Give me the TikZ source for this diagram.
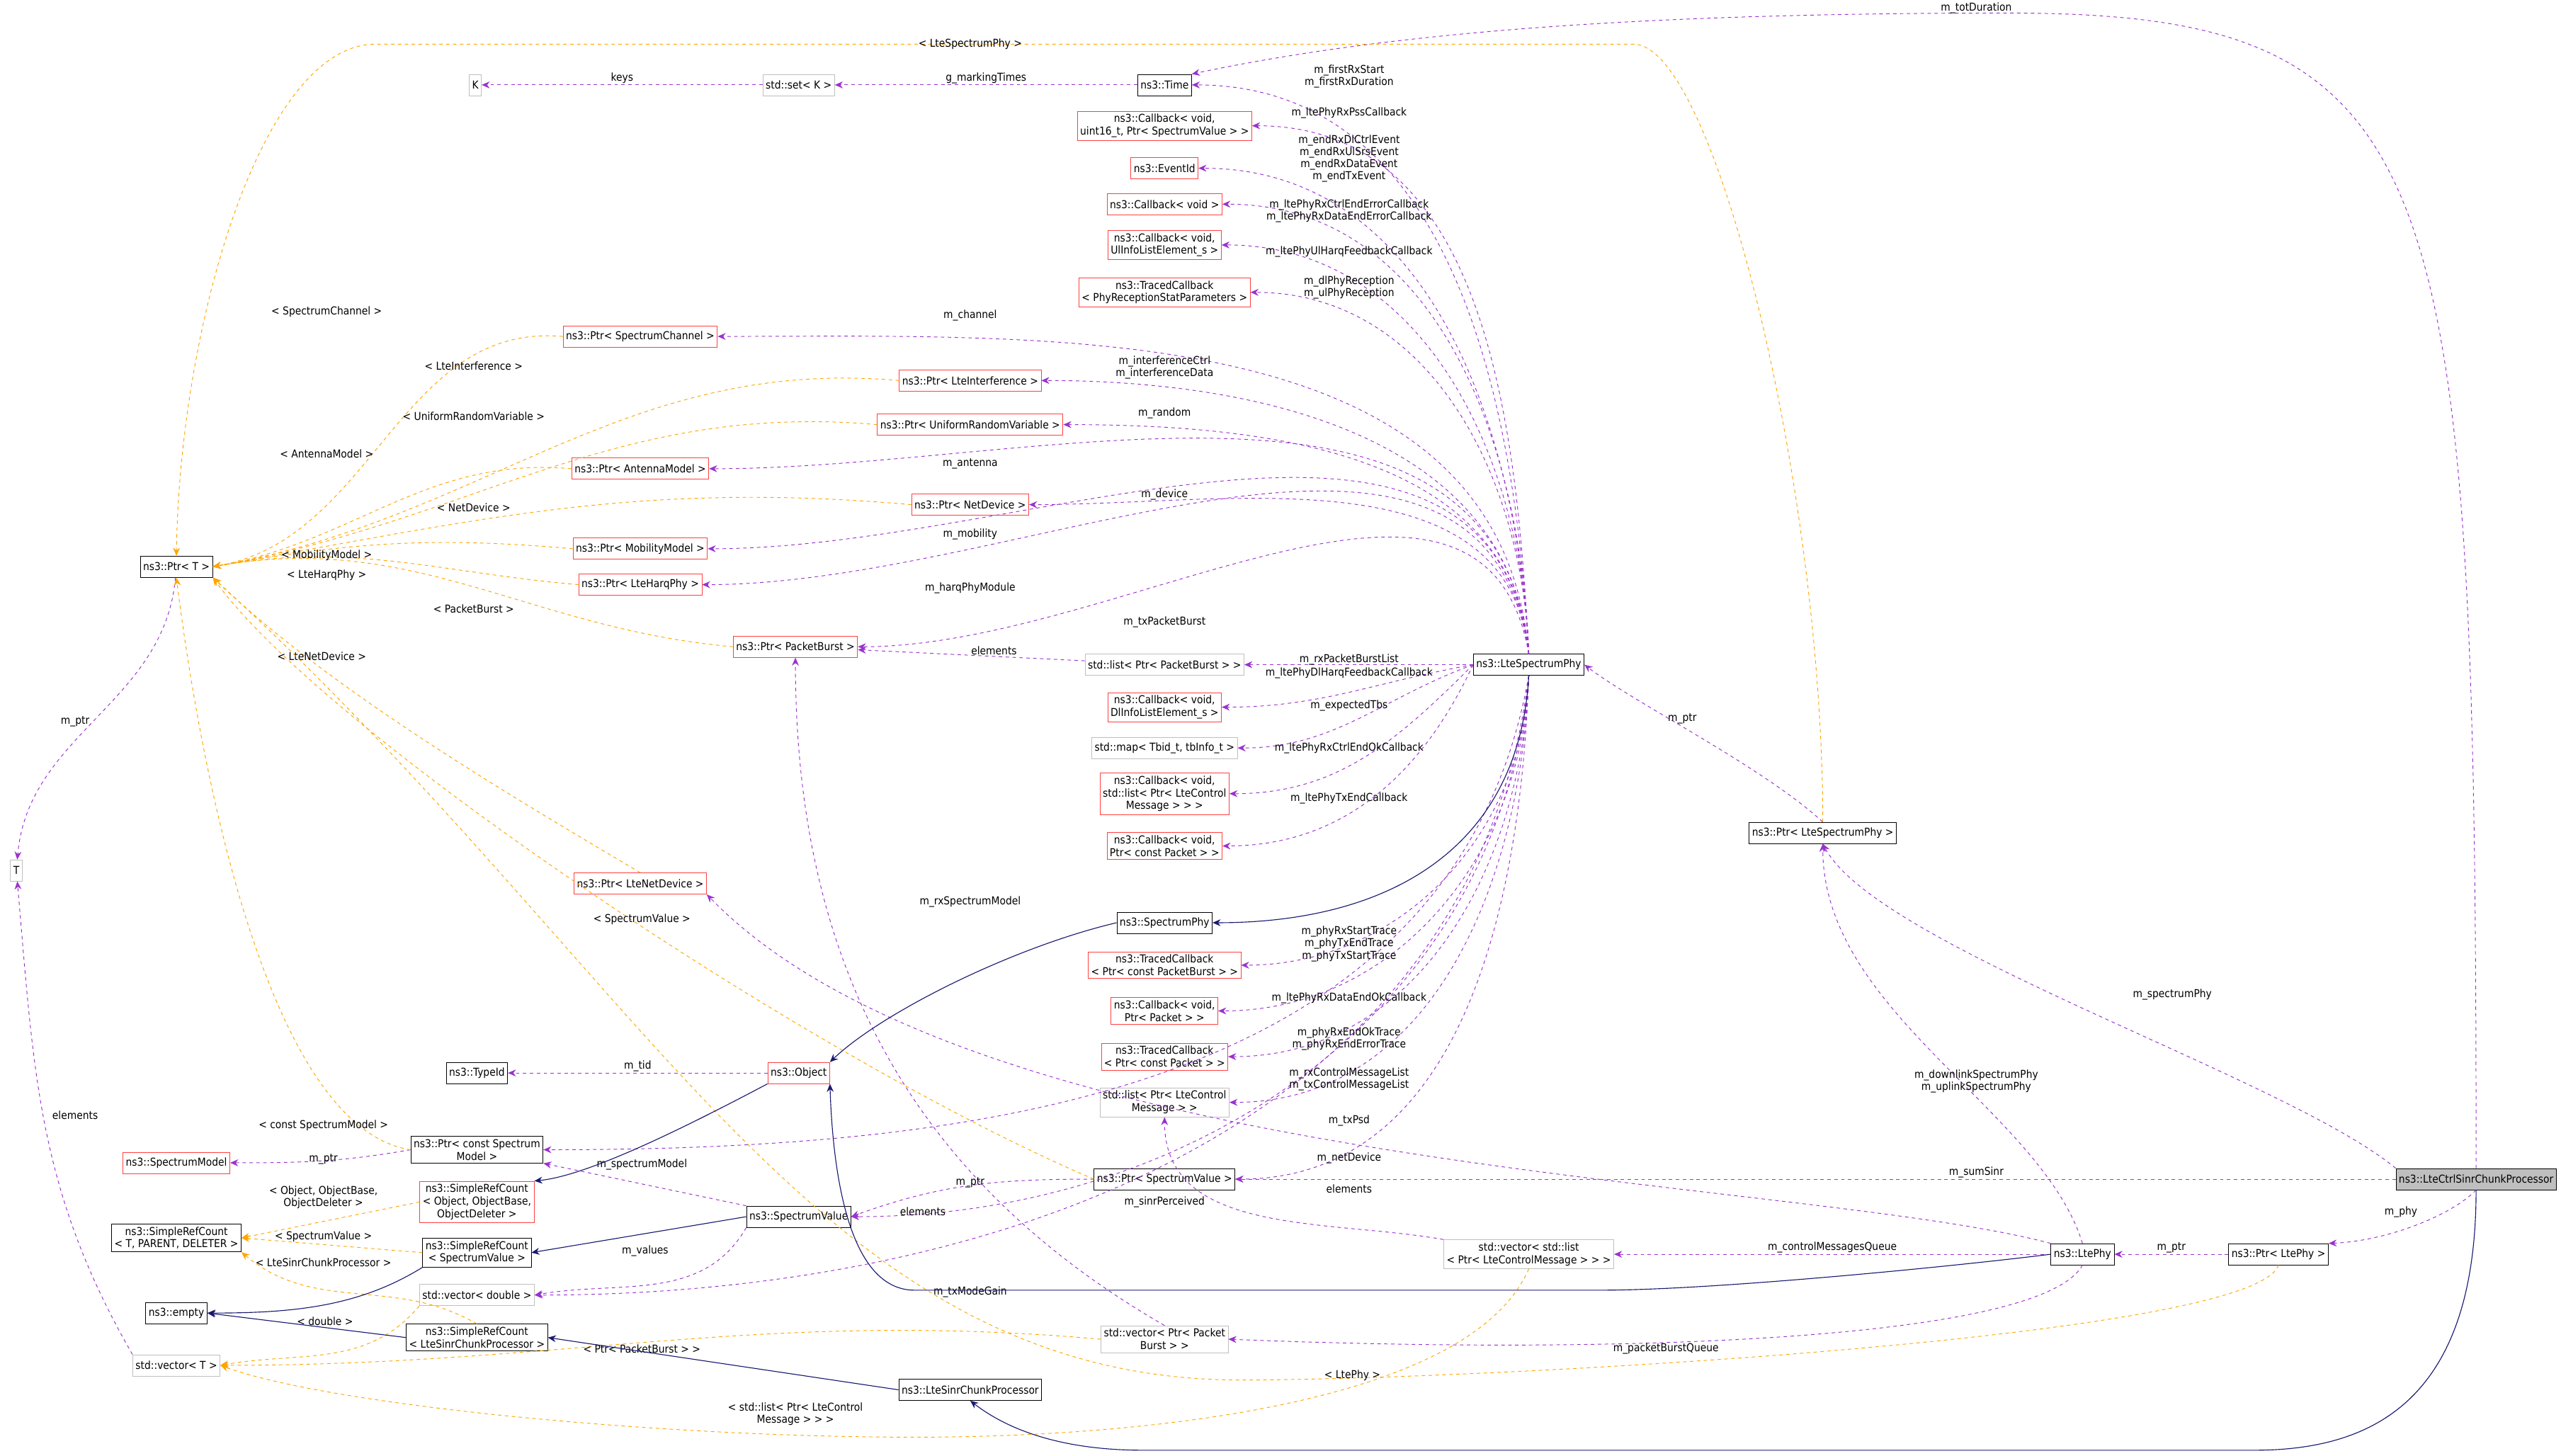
\documentclass[tikz,border=0pt]{standalone}
\usepackage{fontspec}
\setmainfont{DejaVu Sans Condensed}
\usetikzlibrary{arrows.meta}
\definecolor{nutz}{RGB}{154,50,205}
\definecolor{vorlage}{RGB}{255,165,0}
\definecolor{erbe}{RGB}{25,25,112}
\definecolor{rotrand}{RGB}{255,64,64}
\definecolor{graurand}{RGB}{191,191,191}
\tikzset{
  cls/.style={draw=black, line width=0.5pt, font=\fontsize{9.5}{11}\selectfont, align=center, inner sep=2.5pt, minimum height=0.65cm},
  redcls/.style={cls, draw=rotrand},
  graycls/.style={cls, draw=graurand},
  hauptcls/.style={cls, fill=graurand},
  usedge/.style={nutz, dashed, line width=0.6pt, -{Stealth[length=7pt,width=6pt]}},
  tmpedge/.style={vorlage, dashed, line width=0.6pt, -{Stealth[length=7pt,width=6pt]}},
  inhedge/.style={erbe, line width=0.7pt, -{Stealth[length=7pt,width=6pt]}},
  lbl/.style={text=black, font=\fontsize{9.5}{10.5}\selectfont, align=center, inner sep=1pt}
}
\begin{document}
\begin{tikzpicture}[x=0.05cm, y=-0.05cm]
    \useasboundingbox (0,0) rectangle (1568,891.5);
    % Knoten oben
    \node[graycls] (k) at (291,52) {K};
    \node[graycls] (setk) at (489,52) {std::set< K >};
    \node[cls] (time) at (713,52) {ns3::Time};
    \node[redcls] (cbpss) at (713,77) {ns3::Callback< void,\\ uint16\_t, Ptr< SpectrumValue > >};
    \node[redcls] (evid) at (713,103) {ns3::EventId};
    \node[redcls] (cbvoid) at (713,125) {ns3::Callback< void >};
    \node[redcls] (cbul) at (713,150) {ns3::Callback< void,\\ UlInfoListElement\_s >};
    \node[redcls] (tcrecv) at (713,179) {ns3::TracedCallback\\< PhyReceptionStatParameters >};
    % Zeiger
    \node[redcls] (pchan) at (392,206) {ns3::Ptr< SpectrumChannel >};
    \node[redcls] (pinter) at (594,233) {ns3::Ptr< LteInterference >};
    \node[redcls] (purv) at (594,260) {ns3::Ptr< UniformRandomVariable >};
    \node[redcls] (pant) at (392,287) {ns3::Ptr< AntennaModel >};
    \node[redcls] (pnd) at (594,309) {ns3::Ptr< NetDevice >};
    \node[redcls] (pmob) at (392,336) {ns3::Ptr< MobilityModel >};
    \node[redcls] (pharq) at (392,358) {ns3::Ptr< LteHarqPhy >};
    \node[cls] (pT) at (108,347) {ns3::Ptr< T >};
    \node[redcls] (ppb) at (487,396) {ns3::Ptr< PacketBurst >};
    \node[graycls] (lpb) at (713,407) {std::list< Ptr< PacketBurst > >};
    \node[cls] (lsp) at (936,407) {ns3::LteSpectrumPhy};
    \node[redcls] (cbdl) at (713,433) {ns3::Callback< void,\\ DlInfoListElement\_s >};
    \node[graycls] (mtb) at (713,458) {std::map< Tbid\_t, tbInfo\_t >};
    \node[redcls] (cbctrl) at (713,486) {ns3::Callback< void,\\ std::list< Ptr< LteControl\\ Message > > >};
    \node[redcls] (cbcpk) at (713,518) {ns3::Callback< void,\\ Ptr< const Packet > >};
    \node[graycls] (tT) at (10,533) {T};
    \node[redcls] (plnd) at (392,541) {ns3::Ptr< LteNetDevice >};
    \node[cls] (sphy) at (713,565) {ns3::SpectrumPhy};
    \node[redcls] (tcpb) at (713,591) {ns3::TracedCallback\\< Ptr< const PacketBurst > >};
    \node[redcls] (cbpk) at (713,619) {ns3::Callback< void,\\ Ptr< Packet > >};
    \node[redcls] (tcpk) at (713,647) {ns3::TracedCallback\\< Ptr< const Packet > >};
    \node[graycls] (lcm) at (713,675) {std::list< Ptr< LteControl\\ Message > >};
    % Basisklassen
    \node[cls] (tid) at (292,657) {ns3::TypeId};
    \node[redcls] (obj) at (489,657) {ns3::Object};
    \node[redcls] (smod) at (108,712) {ns3::SpectrumModel};
    \node[cls] (psm) at (292,704) {ns3::Ptr< const Spectrum\\ Model >};
    \node[redcls] (srcobj) at (292,736) {ns3::SimpleRefCount\\< Object, ObjectBase,\\ ObjectDeleter >};
    \node[cls] (srcT) at (108,758) {ns3::SimpleRefCount\\< T, PARENT, DELETER >};
    \node[cls] (sval) at (489,745) {ns3::SpectrumValue};
    \node[cls] (psv) at (713,722) {ns3::Ptr< SpectrumValue >};
    \node[cls] (srcsv) at (292,767) {ns3::SimpleRefCount\\< SpectrumValue >};
    \node[graycls] (vdbl) at (292,793) {std::vector< double >};
    \node[cls] (empty) at (108,804) {ns3::empty};
    \node[cls] (srclsc) at (292,819) {ns3::SimpleRefCount\\< LteSinrChunkProcessor >};
    \node[graycls] (vT) at (108,836) {std::vector< T >};
    \node[graycls] (vpb) at (713,820) {std::vector< Ptr< Packet\\ Burst > >};
    \node[cls] (lsc) at (594,851) {ns3::LteSinrChunkProcessor};
    % rechte Seite
    \node[cls] (plsp) at (1116,510) {ns3::Ptr< LteSpectrumPhy >};
    \node[graycls] (vlcm) at (936,768) {std::vector< std::list\\< Ptr< LteControlMessage > > >};
    \node[cls] (lphy) at (1275,768) {ns3::LtePhy};
    \node[cls] (plphy) at (1395,768) {ns3::Ptr< LtePhy >};
    \node[hauptcls] (lcs) at (1516,722) {ns3::LteCtrlSinrChunkProcessor};

    % Nutzungen von LteSpectrumPhy
    \foreach \ziel/\w in {time/93,cbpss/93,evid/93,cbvoid/92,cbul/92,tcrecv/92,pchan/95,pinter/95,purv/95,pant/96,pnd/96,pmob/97,pharq/98,ppb/100}
        \draw[usedge] (lsp.north) to[out=\w,in=0] (\ziel.east);
    \foreach \ziel/\w in {lpb/180,cbdl/190,mtb/200,cbctrl/225,cbcpk/245}
        \draw[usedge] (lsp.west) to[out=\w,in=0] (\ziel.east);
    \foreach \ziel/\w in {psm/-100,tcpb/-92,cbpk/-92,tcpk/-92,lcm/-92,psv/-92,sval/-95,vdbl/-97}
        \draw[usedge] (lsp.south) to[out=\w,in=0] (\ziel.east);
    \node[lbl] at (826,47) {m\_firstRxStart\\m\_firstRxDuration};
    \node[lbl] at (826,69) {m\_ltePhyRxPssCallback};
    \node[lbl] at (826,97) {m\_endRxDlCtrlEvent\\m\_endRxUlSrsEvent\\m\_endRxDataEvent\\m\_endTxEvent};
    \node[lbl] at (826,129) {m\_ltePhyRxCtrlEndErrorCallback\\m\_ltePhyRxDataEndErrorCallback};
    \node[lbl] at (826,154) {m\_ltePhyUlHarqFeedbackCallback};
    \node[lbl] at (826,176) {m\_dlPhyReception\\m\_ulPhyReception};
    \node[lbl] at (594,193) {m\_channel};
    \node[lbl] at (713,225) {m\_interferenceCtrl\\m\_interferenceData};
    \node[lbl] at (713,253) {m\_random};
    \node[lbl] at (594,284) {m\_antenna};
    \node[lbl] at (713,303) {m\_device};
    \node[lbl] at (594,327) {m\_mobility};
    \node[lbl] at (594,360) {m\_harqPhyModule};
    \node[lbl] at (713,381) {m\_txPacketBurst};
    \node[lbl] at (826,404) {m\_rxPacketBurstList};
    \node[lbl] at (826,412) {m\_ltePhyDlHarqFeedbackCallback};
    \node[lbl] at (826,432) {m\_expectedTbs};
    \node[lbl] at (826,458) {m\_ltePhyRxCtrlEndOkCallback};
    \node[lbl] at (826,489) {m\_ltePhyTxEndCallback};
    \node[lbl] at (594,552) {m\_rxSpectrumModel};
    \node[lbl] at (826,578) {m\_phyRxStartTrace\\m\_phyTxEndTrace\\m\_phyTxStartTrace};
    \node[lbl] at (826,611) {m\_ltePhyRxDataEndOkCallback};
    \node[lbl] at (826,636) {m\_phyRxEndOkTrace\\m\_phyRxEndErrorTrace};
    \node[lbl] at (826,661) {m\_rxControlMessageList\\m\_txControlMessageList};
    \node[lbl] at (826,686) {m\_txPsd};
    \node[lbl] at (713,736) {m\_sinrPerceived};
    \node[lbl] at (594,791) {m\_txModeGain};

    % weitere Nutzungen
    \draw[usedge] (setk) -- node[lbl, above] {keys} (k);
    \draw[usedge] (time) -- node[lbl, above] {g\_markingTimes} (setk);
    \draw[usedge] (lcs.north) .. controls (1516,100) and (1500,8) .. (1230,8) .. controls (1000,8) and (850,20) .. (time.north east);
    \node[lbl] at (1210,5) {m\_totDuration};
    \draw[usedge] (lpb) -- node[lbl, above, pos=0.4] {elements} (ppb);
    \draw[usedge] (pT) to[out=-95,in=85] (tT);
    \node[lbl] at (46,442) {m\_ptr};
    \draw[usedge] (vT.north west) to[out=120,in=-85] (tT);
    \node[lbl] at (46,683) {elements};
    \draw[usedge] (obj) -- node[lbl, above] {m\_tid} (tid);
    \draw[usedge] (psm.west) to[out=190,in=0] (smod);
    \node[lbl] at (198,710) {m\_ptr};
    \draw[usedge] (sval.north west) -- (psm.south east);
    \node[lbl] at (393,713) {m\_spectrumModel};
    \draw[usedge] (sval.south west) to[out=-120,in=10] (vdbl.east);
    \node[lbl] at (395,766) {m\_values};
    \draw[usedge] (psv.west) to[out=180,in=20] (sval.east);
    \node[lbl] at (594,724) {m\_ptr};
    \draw[usedge] (vlcm.north west) to[out=170,in=-90] (lcm.south);
    \node[lbl] at (826,728) {elements};
    \draw[usedge] (vpb.north) to[out=150,in=-90] (ppb.south);
    \node[lbl] at (565,742) {elements};
    \draw[usedge] (lphy) -- node[lbl, above] {m\_controlMessagesQueue} (vlcm);
    \draw[usedge] (lphy.south) .. controls (1250,820) and (1000,830) .. (vpb.east);
    \node[lbl] at (1020,826) {m\_packetBurstQueue};
    \draw[usedge] (lphy.north west) .. controls (1100,720) and (600,720) .. (plnd.south east);
    \node[lbl] at (826,709) {m\_netDevice};
    \draw[usedge] (lphy.north) .. controls (1250,680) and (1116,620) .. (plsp.south);
    \node[lbl] at (1210,662) {m\_downlinkSpectrumPhy\\m\_uplinkSpectrumPhy};
    \draw[usedge] (plsp.north) .. controls (1080,470) and (1000,430) .. (lsp.east);
    \node[lbl] at (1030,440) {m\_ptr};
    \draw[usedge] (lcs.north west) .. controls (1400,660) and (1150,580) .. (plsp.south);
    \node[lbl] at (1330,609) {m\_spectrumPhy};
    \draw[usedge] (lcs.west) -- (psv.east);
    \node[lbl] at (1210,718) {m\_sumSinr};
    \draw[usedge] (lcs.south) .. controls (1500,745) and (1460,760) .. (plphy.north east);
    \node[lbl] at (1470,742) {m\_phy};
    \draw[usedge] (plphy) -- node[lbl, above] {m\_ptr} (lphy);

    % Vorlagen
    \foreach \quelle in {pchan,pinter,purv,pant,pnd,pmob,pharq,ppb}
        \draw[tmpedge] (\quelle.west) to[out=175,in=10] (pT.east);
    \node[lbl] at (200,191) {< SpectrumChannel >};
    \node[lbl] at (290,224) {< LteInterference >};
    \node[lbl] at (290,255) {< UniformRandomVariable >};
    \node[lbl] at (200,278) {< AntennaModel >};
    \node[lbl] at (290,311) {< NetDevice >};
    \node[lbl] at (200,340) {< MobilityModel >};
    \node[lbl] at (200,352) {< LteHarqPhy >};
    \node[lbl] at (290,373) {< PacketBurst >};
    \draw[tmpedge] (plnd.north) .. controls (300,480) and (200,420) .. (pT.south east);
    \node[lbl] at (197,402) {< LteNetDevice >};
    \draw[tmpedge] (psv.west) .. controls (500,650) and (200,450) .. (pT.south east);
    \node[lbl] at (393,563) {< SpectrumValue >};
    \draw[tmpedge] (psm.west) .. controls (160,690) and (120,450) .. (pT.south);
    \node[lbl] at (198,689) {< const SpectrumModel >};
    \draw[tmpedge] (plsp.north) .. controls (1116,300) and (1050,27) .. (1000,27) -- (230,27) .. controls (160,27) and (110,200) .. (pT.north);
    \node[lbl] at (594,27) {< LteSpectrumPhy >};
    \draw[tmpedge] (plphy.south) .. controls (1380,820) and (900,845) .. (760,845) .. controls (500,845) and (400,600) .. (pT.south east);
    \node[lbl] at (828,842) {< LtePhy >};
    \draw[tmpedge] (srcobj.west) -- (srcT.east);
    \node[lbl] at (198,733) {< Object, ObjectBase,\\ObjectDeleter >};
    \draw[tmpedge] (srcsv.west) -- (srcT.east);
    \node[lbl] at (198,757) {< SpectrumValue >};
    \draw[tmpedge] (srclsc.north) to[out=150,in=-40] (srcT.south east);
    \node[lbl] at (198,773) {< LteSinrChunkProcessor >};
    \draw[tmpedge] (vdbl.south west) to[out=-130,in=10] (vT.east);
    \node[lbl] at (199,809) {< double >};
    \draw[tmpedge] (vpb.west) to[out=175,in=0] (vT.east);
    \node[lbl] at (393,826) {< Ptr< PacketBurst > >};
    \draw[tmpedge] (vlcm.south) .. controls (900,860) and (700,880) .. (560,880) .. controls (400,880) and (200,860) .. (vT.east);
    \node[lbl] at (487,866) {< std::list< Ptr< LteControl\\Message > > >};

    % Vererbung
    \draw[inhedge] (lsp.south) .. controls (930,520) and (850,565) .. (sphy.east);
    \draw[inhedge] (sphy.west) .. controls (620,580) and (540,620) .. (obj.north east);
    \draw[inhedge] (obj.south west) .. controls (420,690) and (360,720) .. (srcobj.north east);
    \draw[inhedge] (sval.west) -- (srcsv.east);
    \draw[inhedge] (srcsv.south west) .. controls (220,800) and (180,804) .. (empty.east);
    \draw[inhedge] (srclsc.west) -- (empty.east);
    \draw[inhedge] (lsc.west) -- (srclsc.east);
    \draw[inhedge] (lcs.south) .. controls (1516,860) and (1450,888) .. (1380,888) -- (700,888) .. controls (640,888) and (610,870) .. (lsc.south);
    \draw[inhedge] (lphy.west) .. controls (1200,775) and (1050,790) .. (980,790) -- (560,790) .. controls (520,790) and (510,720) .. (obj.south east);
\end{tikzpicture}
\end{document}
